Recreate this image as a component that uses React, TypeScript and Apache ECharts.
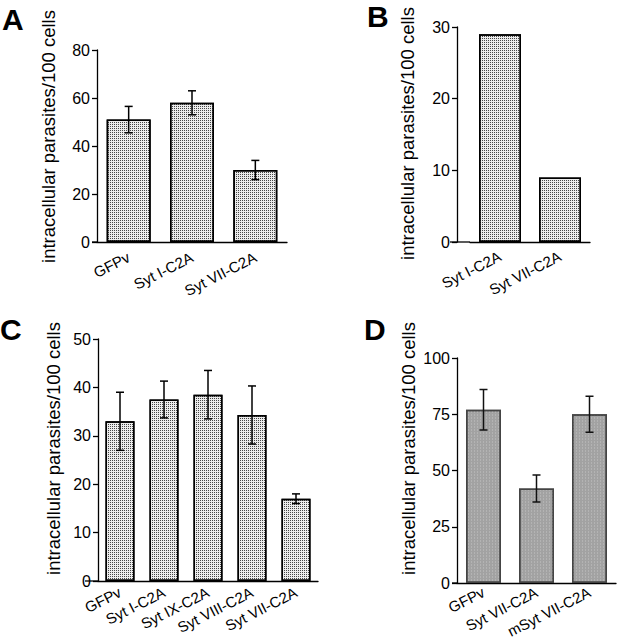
import React, { useEffect, useRef } from "react";
import * as echarts from "echarts";

// ---- Data ----
const catsA = ["GFPv", "Syt I-C2A", "Syt VII-C2A"];
const valsA = [51, 58, 30];
const errA = [5.5, 5, 4];

const catsB = ["Syt I-C2A", "Syt VII-C2A"];
const valsB = [29, 9];

const catsC = ["GFPv", "Syt I-C2A", "Syt IX-C2A", "Syt VIII-C2A", "Syt VII-C2A"];
const valsC = [33, 37.5, 38.5, 34.3, 17];
const errC = [6, 3.8, 5, 6, 1];

const catsD = ["GFPv", "Syt VII-C2A", "mSyt VII-C2A"];
const valsD = [77, 42, 75];
const errD = [9, 6, 8];

const yTitle = "intracellular parasites/100 cells";
const FONT = "Liberation Sans, Arial, Helvetica, sans-serif";

const dotDecal = {
  symbol: "rect",
  symbolSize: 1,
  color: "rgba(0,0,0,0.7)",
  dashArrayX: [1, 1],
  dashArrayY: [1, 1],
  rotation: 0,
};

const grayDecal = {
  symbol: "rect",
  symbolSize: 1,
  color: "rgba(255,255,255,0.18)",
  dashArrayX: [1, 2],
  dashArrayY: [2, 1],
  rotation: 0,
};

function errorSeries(idx: number, vals: number[], errs: number[], color: string) {
  return {
    type: "custom",
    xAxisIndex: idx,
    yAxisIndex: idx,
    z: 10,
    data: vals.map((v, i) => [i, v - errs[i], v + errs[i]]),
    renderItem: (params: any, api: any) => {
      const x = api.value(0);
      const lo = api.coord([x, api.value(1)]);
      const hi = api.coord([x, api.value(2)]);
      const h = 4;
      const st = { stroke: color, lineWidth: 1.5 };
      return {
        type: "group",
        children: [
          { type: "line", shape: { x1: lo[0], y1: lo[1], x2: hi[0], y2: hi[1] }, style: st },
          { type: "line", shape: { x1: lo[0] - h, y1: lo[1], x2: lo[0] + h, y2: lo[1] }, style: st },
          { type: "line", shape: { x1: hi[0] - h, y1: hi[1], x2: hi[0] + h, y2: hi[1] }, style: st },
        ],
      };
    },
  };
}

function xAx(idx: number, cats: string[], margin: number) {
  return {
    type: "category",
    gridIndex: idx,
    data: cats,
    axisLine: { lineStyle: { color: "#000", width: 1.3 } },
    axisTick: { show: false },
    axisLabel: {
      interval: 0,
      rotate: 27,
      margin,
      color: "#000",
      fontSize: 15,
      fontFamily: FONT,
    },
  };
}

function yAx(idx: number, max: number, interval: number, offset = 0) {
  return {
    type: "value",
    gridIndex: idx,
    min: 0,
    max,
    interval,
    offset,
    splitLine: { show: false },
    axisLine: { show: true, lineStyle: { color: "#000", width: 1.3 } },
    axisTick: { show: true, length: 5, lineStyle: { color: "#000", width: 1.3 } },
    axisLabel: { color: "#000", fontSize: 16, fontFamily: FONT, margin: 7 },
  };
}

function barSeries(idx: number, vals: number[], width: number, color: string, border: string, decal: any) {
  return {
    type: "bar",
    xAxisIndex: idx,
    yAxisIndex: idx,
    data: vals,
    barWidth: width,
    itemStyle: { color, borderColor: border, borderWidth: 1.5, decal },
  };
}

function title(x: number, y: number) {
  return {
    type: "text",
    x,
    y,
    rotation: Math.PI / 2,
    style: {
      text: yTitle,
      fontSize: 18.5,
      fontFamily: FONT,
      fill: "#000",
      align: "center",
      verticalAlign: "middle",
    },
  };
}

function letter(t: string, x: number, y: number) {
  return {
    type: "text",
    x,
    y,
    style: {
      text: t,
      fontSize: 30,
      fontWeight: "bold",
      fontFamily: FONT,
      fill: "#000",
      align: "left",
      verticalAlign: "middle",
    },
  };
}

function stub(x1: number, x2: number, y: number) {
  return { type: "line", shape: { x1, y1: y, x2, y2: y }, style: { stroke: "#000", lineWidth: 1.3 } };
}

export default function App() {
  const ref = useRef<HTMLDivElement>(null);
  useEffect(() => {
    if (!ref.current) return;
    const chart = echarts.init(ref.current, null, { renderer: "svg" });
    chart.setOption({
      animation: false,
      backgroundColor: "#fff",
      grid: [
        { left: 97, top: 50, width: 190, height: 192, outerBoundsMode: "none", containLabel: false },
        { left: 470, top: 27, width: 120, height: 215, outerBoundsMode: "none", containLabel: false },
        { left: 98, top: 339, width: 220, height: 242, outerBoundsMode: "none", containLabel: false },
        { left: 457, top: 358, width: 159, height: 225, outerBoundsMode: "none", containLabel: false },
      ],
      xAxis: [xAx(0, catsA, 14), xAx(1, catsB, 13), xAx(2, catsC, 10), xAx(3, catsD, 8)],
      yAxis: [yAx(0, 80, 20), yAx(1, 30, 10, 13), yAx(2, 50, 10), yAx(3, 100, 25)],
      series: [
        barSeries(0, valsA, 44, "#ececec", "#000", dotDecal),
        errorSeries(0, valsA, errA, "#000"),
        barSeries(1, valsB, 42, "#ececec", "#000", dotDecal),
        barSeries(2, valsC, 29, "#ececec", "#000", dotDecal),
        errorSeries(2, valsC, errC, "#000"),
        barSeries(3, valsD, 35, "#a2a2a2", "#444", grayDecal),
        errorSeries(3, valsD, errD, "#111"),
      ],
      graphic: [
        title(48, 136.5),
        title(407, 133.5),
        title(53, 448.5),
        title(408, 448.5),
        letter("A", 2, 19),
        letter("B", 367, 16),
        letter("C", 0, 329),
        letter("D", 364, 329),
        stub(92, 97, 242),
        stub(450, 470, 242),
        stub(85, 98, 581),
        stub(452, 457, 583),
      ],
    });
    return () => chart.dispose();
  }, []);
  return (
    <div
      ref={ref}
      style={{ position: "fixed", left: 0, top: 0, width: 618, height: 640, background: "#fff" }}
    />
  );
}
